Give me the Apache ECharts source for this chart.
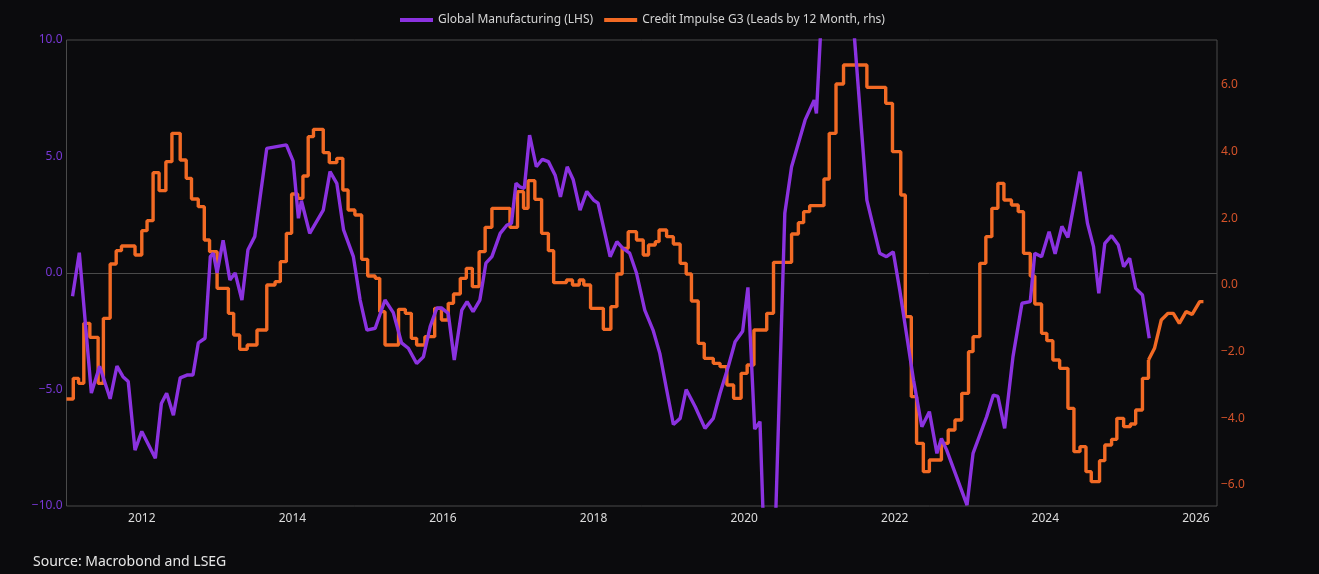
<!DOCTYPE html>
<html>
<head>
<meta charset="utf-8">
<script src="https://cdn.jsdelivr.net/npm/echarts@6/dist/echarts.min.js"></script>
<style>
html,body{margin:0;padding:0;background:#0b0b0d;}
#chart{width:1319px;height:574px;}
</style>
</head>
<body>
<div id="chart"></div>
<script>
// ---- Data (x = fractional year) ----
const gmName = 'Global Manufacturing (LHS)';
const ciName = 'Credit Impulse G3 (Leads by 12 Month, rhs)';
const sourceText = 'Source: Macrobond and LSEG';

const gmDates = [2011.08,2011.17,2011.33,2011.44,2011.58,2011.67,2011.75,2011.82,2011.91,2012.00,
  2012.18,2012.26,2012.33,2012.42,2012.51,2012.60,2012.68,2012.75,2012.84,2012.91,
  2012.95,2013.00,2013.08,2013.17,2013.24,2013.33,2013.41,2013.50,2013.66,2013.92,
  2014.01,2014.08,2014.12,2014.23,2014.41,2014.50,2014.59,2014.68,2014.81,2014.90,
  2014.99,2015.10,2015.23,2015.34,2015.45,2015.54,2015.65,2015.74,2015.83,2015.92,
  2015.98,2016.07,2016.15,2016.25,2016.32,2016.40,2016.49,2016.57,2016.65,2016.76,
  2016.85,2016.91,2016.97,2017.02,2017.08,2017.15,2017.24,2017.32,2017.40,2017.49,
  2017.56,2017.65,2017.73,2017.82,2017.91,2018.00,2018.06,2018.22,2018.31,2018.39,
  2018.48,2018.57,2018.68,2018.79,2018.88,2018.97,2019.06,2019.15,2019.23,2019.35,
  2019.48,2019.59,2019.68,2019.79,2019.88,2019.98,2020.05,2020.14,2020.21,2020.30,
  2020.38,2020.54,2020.63,2020.81,2020.93,2020.96,2021.05,2021.20,2021.42,2021.63,
  2021.80,2021.89,2021.98,2022.07,2022.25,2022.36,2022.46,2022.56,2022.62,2022.69,
  2022.96,2023.04,2023.22,2023.31,2023.37,2023.46,2023.57,2023.69,2023.80,2023.86,
  2023.95,2024.05,2024.13,2024.22,2024.30,2024.46,2024.56,2024.64,2024.71,2024.79,
  2024.88,2024.97,2025.04,2025.12,2025.20,2025.29,2025.38];
const gmValues = [-1.0,0.87,-5.15,-4.0,-5.4,-4.0,-4.45,-4.66,-7.6,-6.8,
  -7.95,-5.6,-5.16,-6.1,-4.5,-4.38,-4.38,-3.0,-2.8,0.7,
  0.85,0.0,1.4,-0.3,0.0,-1.16,1.0,1.56,5.35,5.5,
  4.8,2.35,3.1,1.7,2.7,4.35,3.85,1.85,0.7,-1.16,
  -2.45,-2.37,-1.16,-1.7,-3.0,-3.23,-3.88,-3.6,-2.3,-1.5,
  -1.5,-1.73,-3.73,-1.59,-1.23,-1.66,-1.16,0.42,0.7,1.7,
  2.06,2.13,3.85,3.7,3.63,5.92,4.56,4.88,4.78,4.2,
  3.27,4.56,4.0,2.7,3.5,3.13,3.0,0.7,1.34,1.06,
  0.85,0.0,-1.59,-2.45,-3.45,-5.0,-6.5,-6.24,-5.0,-5.74,
  -6.67,-6.24,-5.16,-4.0,-2.95,-2.5,-0.62,-6.7,-6.38,-15.0,
  -14.6,2.56,4.56,6.57,7.42,6.85,12.5,14.5,12.0,3.13,
  0.85,0.7,0.91,-0.8,-4.6,-6.6,-5.95,-7.74,-7.1,-7.6,
  -9.96,-7.74,-6.17,-5.24,-5.3,-6.67,-3.6,-1.3,-1.23,0.85,
  0.7,1.77,0.82,2.0,1.53,4.35,2.13,1.13,-0.87,1.27,
  1.6,1.2,0.27,0.63,-0.66,-0.94,-2.8];

// Credit impulse: step segments (start of each level)
const ciDates = [2011.00,2011.09,2011.16,2011.23,2011.31,2011.42,2011.49,2011.58,2011.66,2011.73,
  2011.91,2012.00,2012.07,2012.15,2012.23,2012.32,2012.40,2012.51,2012.59,2012.66,
  2012.75,2012.83,2012.90,2013.00,2013.15,2013.22,2013.30,2013.40,2013.53,2013.66,
  2013.77,2013.84,2013.92,2013.99,2014.07,2014.14,2014.21,2014.28,2014.41,2014.49,
  2014.59,2014.67,2014.74,2014.83,2014.92,2015.00,2015.10,2015.16,2015.23,2015.41,
  2015.50,2015.58,2015.65,2015.76,2015.89,2015.98,2016.07,2016.14,2016.23,2016.31,
  2016.39,2016.48,2016.56,2016.65,2016.89,2016.99,2017.07,2017.13,2017.22,2017.31,
  2017.40,2017.47,2017.64,2017.72,2017.81,2017.87,2017.96,2018.13,2018.23,2018.31,
  2018.38,2018.46,2018.57,2018.66,2018.73,2018.82,2018.87,2018.97,2019.06,2019.15,
  2019.23,2019.30,2019.39,2019.47,2019.59,2019.68,2019.77,2019.86,2019.96,2020.04,
  2020.13,2020.30,2020.39,2020.63,2020.72,2020.79,2020.87,2021.06,2021.13,2021.22,
  2021.32,2021.63,2021.88,2021.97,2022.08,2022.14,2022.22,2022.29,2022.38,2022.46,
  2022.62,2022.71,2022.80,2022.89,2022.98,2023.04,2023.13,2023.21,2023.29,2023.37,
  2023.45,2023.55,2023.64,2023.71,2023.80,2023.86,2023.95,2024.02,2024.10,2024.19,
  2024.30,2024.38,2024.46,2024.54,2024.61,2024.72,2024.79,2024.88,2024.95,2025.04,
  2025.13,2025.20,2025.29,2025.37];
const ciValues = [-3.42,-2.8,-2.95,-1.15,-1.57,-2.95,-1.0,0.63,1.03,1.17,
  0.9,1.63,1.93,3.37,2.83,3.7,4.55,3.75,3.2,2.58,
  2.35,1.35,1.0,-0.1,-0.85,-1.5,-1.93,-1.8,-1.35,0.0,
  0.1,0.7,1.55,2.73,2.6,3.27,4.45,4.67,3.97,3.67,
  3.8,2.85,2.25,2.1,0.77,0.27,0.2,-0.8,-1.8,-0.73,
  -0.85,-1.6,-1.8,-1.55,-0.7,-1.05,-0.55,-0.27,0.2,0.5,
  -0.05,1.0,1.73,2.3,1.73,2.8,2.3,3.13,2.57,1.55,
  1.03,0.07,0.15,0.0,0.15,0.0,-0.7,-1.33,-0.65,0.33,
  1.1,1.6,1.35,0.9,1.2,1.3,1.65,1.45,1.23,0.65,
  0.33,-0.48,-1.75,-2.2,-2.35,-2.45,-3.0,-3.4,-2.65,-2.4,
  -1.35,-0.85,0.68,1.53,1.87,2.2,2.38,3.18,4.55,6.03,
  6.6,5.93,5.45,4.0,2.7,-0.95,-3.35,-4.75,-5.6,-5.25,
  -4.75,-4.35,-4.05,-3.25,-2.0,-1.55,0.65,1.45,2.3,3.05,
  2.55,2.4,2.2,0.95,0.27,-0.57,-1.45,-1.67,-2.25,-2.5,
  -3.7,-5.0,-4.85,-5.6,-5.9,-5.27,-4.8,-4.63,-4.0,-4.25,
  -4.17,-3.75,-2.8,-2.25];
// Credit impulse latest readings (drawn as plain line)
const ciTailDates = [2025.37,2025.45,2025.54,2025.63,2025.70,2025.78,2025.87,2025.95,2026.05,2026.10];
const ciTailValues = [-2.25,-1.9,-1.05,-0.85,-0.85,-1.15,-0.8,-0.88,-0.5,-0.5];

const xTicks = [2012,2014,2016,2018,2020,2022,2024,2026];
const leftTicks = [-10,-5,0,5,10];
const rightTicks = [-6,-4,-2,0,2,4,6];

// ---- Chart ----
const zip = (a, b) => a.map((d, i) => [d, b[i]]);
const fmt = v => (v < 0 ? '\u2212' : '') + Math.abs(v).toFixed(1);
const purple = '#8b32e0';
const orange = '#f26a24';

const chart = echarts.init(document.getElementById('chart'), null, {renderer: 'canvas'});
chart.setOption({
  backgroundColor: '#0b0b0d',
  animation: false,
  textStyle: {fontFamily: 'Noto Sans'},
  title: {
    text: sourceText, left: 28, top: 550,
    textStyle: {color: '#e6e6e6', fontSize: 14, fontWeight: 'normal', fontFamily: 'Noto Sans'}
  },
  legend: {
    data: [gmName, ciName], left: 395, top: 9,
    icon: 'rect', itemWidth: 33, itemHeight: 4, itemGap: 11,
    textStyle: {color: '#d4d4d4', fontSize: 12}
  },
  grid: {left: 66.5, right: 102, top: 40, bottom: 68, show: true, borderColor: '#4a4a4a', borderWidth: 1},
  xAxis: {
    type: 'value', min: 2011, max: 2026.28,
    axisLine: {show: false}, axisTick: {show: false}, splitLine: {show: false},
    axisLabel: {customValues: xTicks, color: '#dcdcdc', fontSize: 12, margin: 7, formatter: v => String(v)}
  },
  yAxis: [
    {
      type: 'value', min: -10, max: 10, interval: 5, position: 'left',
      axisLine: {show: false}, axisTick: {show: false}, splitLine: {show: false},
      axisLabel: {customValues: leftTicks, color: '#7838d6', fontSize: 12, margin: 4, formatter: fmt}
    },
    {
      type: 'value', min: -6.63, max: 7.35, position: 'right',
      axisLine: {show: false}, axisTick: {show: false}, splitLine: {show: false},
      axisLabel: {customValues: rightTicks, color: '#d5532a', fontSize: 12, margin: 4, formatter: fmt}
    }
  ],
  series: [
    {
      name: gmName, type: 'line', yAxisIndex: 0, z: 4,
      data: zip(gmDates, gmValues), showSymbol: false, symbol: 'none',
      lineStyle: {color: purple, width: 3.4}, itemStyle: {color: purple},
      markLine: {
        silent: true, symbol: ['none', 'none'], z: 1,
        label: {show: false}, lineStyle: {color: '#4a4a4a', width: 1, type: 'solid'},
        data: [{yAxis: 0}]
      }
    },
    {
      name: ciName, type: 'line', yAxisIndex: 1, z: 3, step: 'end',
      data: zip(ciDates, ciValues), showSymbol: false, symbol: 'none',
      lineStyle: {color: orange, width: 3.4}, itemStyle: {color: orange}
    },
    {
      name: ciName, type: 'line', yAxisIndex: 1, z: 3,
      data: zip(ciTailDates, ciTailValues), showSymbol: false, symbol: 'none',
      lineStyle: {color: orange, width: 3.4}, itemStyle: {color: orange}
    }
  ]
});
</script>
</body>
</html>
